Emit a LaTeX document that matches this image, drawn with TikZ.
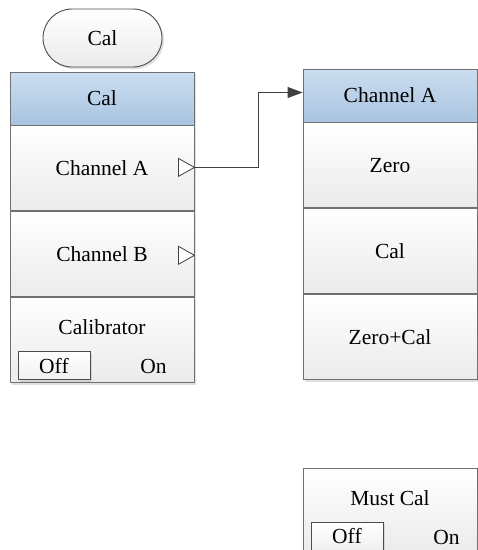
\documentclass[tikz,border=0pt]{standalone}
\usepackage{fontspec}
\setmainfont{Liberation Serif}
\usetikzlibrary{arrows.meta,positioning,shadows}
\definecolor{hdtop}{HTML}{CBDDEF}
\definecolor{hdbot}{HTML}{A9C4E1}
\definecolor{edge}{HTML}{707070}
\tikzset{
  shad/.style  ={drop shadow={shadow xshift=2pt,shadow yshift=-2pt,fill=black!30,opacity=0.4}},
  menu/.style  ={draw=edge,line width=0.9pt,inner sep=0pt,minimum height=85pt,
                 top color=white,bottom color=black!8,shad,
                 font=\fontsize{21.5}{26}\selectfont},
  head/.style  ={menu,minimum height=53pt,top color=hdtop,bottom color=hdbot},
  pill/.style  ={menu,draw=black!70,rounded corners=29pt,minimum width=119pt,minimum height=58pt},
  toggle/.style={draw=black!70,line width=0.8pt,inner sep=0pt,minimum width=72pt,minimum height=28pt,
                 top color=white,bottom color=black!6,shad,font=\fontsize{21.5}{26}\selectfont},
  txt/.style   ={inner sep=0pt,font=\fontsize{21.5}{26}\selectfont},
  soft/.style  ={draw=black!75,line width=0.8pt,fill=white},
  link/.style  ={draw=black!75,line width=1pt,-{Triangle[length=15pt,width=11pt]}},
}

\begin{document}
\begin{tikzpicture}[x=1pt,y=-1pt,node distance=0pt]
\clip (0,0) rectangle (478,550);
\node[pill] (top) at (102.5,38) {Cal};
% left menu
\node[head,minimum width=184pt] (hdL) at (102,98.5) {Cal};
\node[menu,minimum width=184pt,below=of hdL] (chA) {Channel A};
\node[menu,minimum width=184pt,below=of chA] (chB) {Channel B};
\node[menu,minimum width=184pt,below=of chB] (calib) {};
\node[txt] (calibT) at ([yshift=-30pt]calib.north) {Calibrator};
\node[toggle,anchor=north west] (offL) at ([xshift=8pt,yshift=-54pt]calib.north west) {Off};
\node[txt] (onL) at ([xshift=144pt,yshift=-69pt]calib.north west) {On};
\coordinate (tipA) at ([yshift=1pt]chA.east);
\coordinate (tipB) at ([yshift=-1pt]chB.east);
\draw[soft] ([xshift=-16pt,yshift=9pt]tipA) -- (tipA) -- ([xshift=-16pt,yshift=-9pt]tipA) -- cycle;
\draw[soft] ([xshift=-16pt,yshift=9pt]tipB) -- (tipB) -- ([xshift=-16pt,yshift=-9pt]tipB) -- cycle;
% right menu
\node[head,minimum width=174pt] (hdR) at (390,95.5) {Channel A};
\node[menu,minimum width=174pt,below=of hdR] (zero) {Zero};
\node[menu,minimum width=174pt,below=of zero] (cal) {Cal};
\node[menu,minimum width=174pt,below=of cal] (zerocal) {Zero+Cal};
\node[menu,minimum width=174pt,anchor=north] (must) at (390,468) {};
\node[txt] (mustT) at ([yshift=-30pt]must.north) {Must Cal};
\node[toggle,anchor=north west] (offR) at ([xshift=8pt,yshift=-54pt]must.north west) {Off};
\node[txt] (onR) at ([xshift=144pt,yshift=-69pt]must.north west) {On};
% link
\draw[link] (tipA) -- ++(64,0) |- ([yshift=3pt]hdR.west);
\end{tikzpicture}
\end{document}
